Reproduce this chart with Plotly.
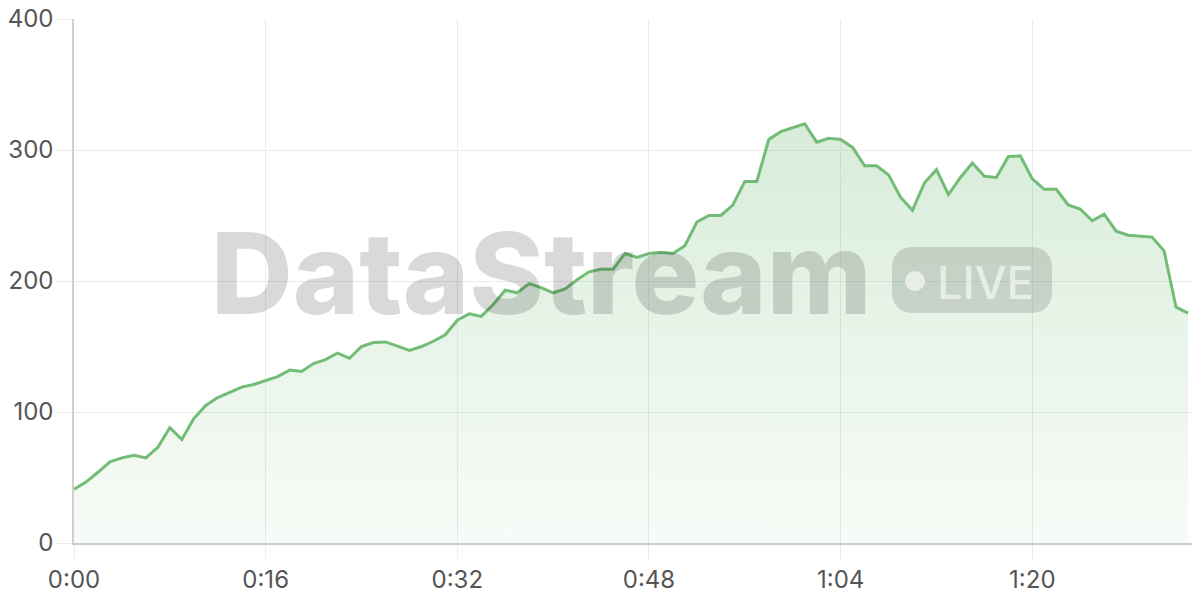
import plotly.graph_objects as go

# ---- data ----
seconds = list(range(94))
values = [41, 46.5, 54, 62, 65, 67, 65, 73, 88, 79,
          95, 105, 111, 115, 119, 121, 124, 127, 132, 131,
          137, 140, 145, 141, 150, 153, 153.5, 150, 147, 150,
          154, 159, 170, 175, 173, 182, 193, 191, 198, 195,
          191, 194, 201, 207, 209, 209, 221, 218, 221, 222,
          221, 227, 245, 250, 250, 258, 276, 276, 308, 314,
          317, 320, 306, 309, 308, 302, 288, 288, 281, 264,
          254, 275, 285, 266, 279, 290, 280, 279, 295, 295.5,
          278, 270, 270, 258, 255, 246, 251, 238, 235, 234,
          233.5, 223, 180, 175.5]
tick_vals = [0, 16, 32, 48, 64, 80]
tick_text = ["0:00", "0:16", "0:32", "0:48", "1:04", "1:20"]
y_ticks = [0, 100, 200, 300, 400]

# ---- layout geometry (page has an 8px body margin) ----
OFF = 8
W, H = 1200 - OFF, 600 - OFF
PLOT_L, PLOT_R, PLOT_T, PLOT_B = 74, 1200, 19, 543   # in page pixels
ML = PLOT_L - OFF
MT = PLOT_T - OFF
MR = (W + OFF) - PLOT_R
MB = (H + OFF) - PLOT_B
PW, PH = PLOT_R - PLOT_L, PLOT_B - PLOT_T


def px(x):
    return (x - PLOT_L) / PW


def py(y):
    return (PLOT_B - y) / PH


LINE = "#72bc76"

fig = go.Figure()
fig.add_trace(go.Scatter(
    x=seconds, y=values, mode="lines",
    line=dict(color=LINE, width=3),
    fill="tozeroy",
    fillgradient=dict(type="vertical", start=0, stop=320,
                      colorscale=[[0, "rgba(108,186,113,0.05)"],
                                  [1, "rgba(108,186,113,0.27)"]]),
    hoverinfo="skip", showlegend=False,
))

# rounded pill for LIVE badge (paper coords)
x0, x1, y0, y1, r = 892, 1052, 247, 313, 22
pth = (f"M {px(x0 + r)} {py(y0)} L {px(x1 - r)} {py(y0)} "
       f"Q {px(x1)} {py(y0)} {px(x1)} {py(y0 + r)} "
       f"L {px(x1)} {py(y1 - r)} Q {px(x1)} {py(y1)} {px(x1 - r)} {py(y1)} "
       f"L {px(x0 + r)} {py(y1)} Q {px(x0)} {py(y1)} {px(x0)} {py(y1 - r)} "
       f"L {px(x0)} {py(y0 + r)} Q {px(x0)} {py(y0)} {px(x0 + r)} {py(y0)} Z")
fig.add_shape(type="path", path=pth, xref="paper", yref="paper",
              fillcolor="rgba(0,0,0,0.13)", line=dict(width=0), layer="above")
fig.add_shape(type="circle", xref="paper", yref="paper",
              x0=px(905), x1=px(925), y0=py(291), y1=py(271),
              fillcolor="rgba(255,255,255,0.6)", line=dict(width=0), layer="above")

fig.add_annotation(text="DataStream", xref="paper", yref="paper",
                   x=px(541), y=py(273), xanchor="center", yanchor="middle",
                   showarrow=False,
                   font=dict(family="Inter", size=113, weight=800,
                             color="rgba(0,0,0,0.15)"))
fig.add_annotation(text="LIVE", xref="paper", yref="paper",
                   x=px(985), y=py(282), xanchor="center", yanchor="middle",
                   showarrow=False,
                   font=dict(family="Inter", size=45, weight=500,
                             color="rgba(255,255,255,0.6)"))

fig.update_layout(
    width=W, height=H,
    margin=dict(l=ML, r=MR, t=MT, b=MB, autoexpand=False),
    paper_bgcolor="white", plot_bgcolor="white",
    font=dict(family="Inter", size=24, color="#555555"),
    xaxis=dict(range=[0, 94], tickvals=tick_vals, ticktext=tick_text,
               showgrid=True, gridcolor="#ebebeb", gridwidth=1,
               ticks="outside", ticklen=14, tickcolor="#ebebeb",
               showline=True, linecolor="#cccccc", linewidth=2,
               zeroline=False, fixedrange=True, automargin=False,
               ticklabeloverflow="allow"),
    yaxis=dict(range=[0, 400], tickvals=y_ticks,
               showgrid=True, gridcolor="#ebebeb", gridwidth=1,
               ticks="outside", ticklen=16, tickcolor="#ebebeb",
               showline=True, linecolor="#d0d0d0", linewidth=1.5,
               zeroline=False, fixedrange=True, automargin=False,
               ticklabeloverflow="allow", ticklabelstandoff=-2),
)

fig.write_html("out.html")
